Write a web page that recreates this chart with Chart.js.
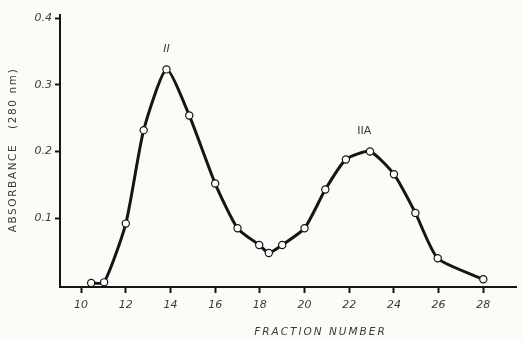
<!DOCTYPE html>
<html>
<head>
<meta charset="utf-8">
<script src="https://cdn.jsdelivr.net/npm/chart.js@4"></script>
<style>
  html, body { margin: 0; padding: 0; background: #fbfbf8; }
  #wrap { width: 522px; height: 341px; position: relative; }
</style>
</head>
<body>
<div id="wrap"><canvas id="chart"></canvas></div>
<script>
// Fraction number vs absorbance (280 nm)
const fractions = [10.45, 11.03, 12, 12.8, 13.82, 14.84, 16, 17, 17.97, 18.4, 19, 20, 20.93, 21.85, 22.93, 24, 24.96, 25.96, 28];
const absorbance = [0.003, 0.004, 0.092, 0.232, 0.323, 0.254, 0.152, 0.085, 0.060, 0.048, 0.060, 0.085, 0.143, 0.188, 0.200, 0.166, 0.108, 0.040, 0.0085];
const xTicks = [10, 12, 14, 16, 18, 20, 22, 24, 26, 28];
const yTicks = [0.1, 0.2, 0.3, 0.4];
const peakNames = ['II', 'IIA'];
const peakAt = [[13.82, 0.354], [22.67, 0.231]];
const xTitle = 'FRACTION NUMBER';
const yTitle = 'ABSORBANCE   (280 nm)';

const ink = '#151515';
const grey = '#3a3a3a';
const tickFont = { family: "'DejaVu Sans', sans-serif", size: 11, style: 'italic' };

// peak names plus the spaced-out axis titles
const annotations = {
    id: 'annotations',
    afterDraw(chart) {
        const { ctx, chartArea: a, scales: { x, y } } = chart;
        ctx.save();
        ctx.fillStyle = grey;
        ctx.textAlign = 'center';
        ctx.textBaseline = 'middle';
        peakNames.forEach((name, i) => {
            ctx.font = i === 0 ? "italic 11px 'DejaVu Sans'" : "11px 'DejaVu Sans'";
            ctx.fillText(name, x.getPixelForValue(peakAt[i][0]), y.getPixelForValue(peakAt[i][1]));
        });
        ctx.letterSpacing = '2px';
        ctx.font = "italic 10.5px 'DejaVu Sans'";
        ctx.fillText(xTitle, (a.left + a.right) / 2 + 32, 332);
        ctx.letterSpacing = '1.6px';
        ctx.font = "10.5px 'DejaVu Sans'";
        ctx.translate(13, (a.top + a.bottom) / 2 - 1);
        ctx.rotate(-Math.PI / 2);
        ctx.fillText(yTitle, 0, 0);
        ctx.restore();
    }
};

new Chart(document.getElementById('chart'), {
    type: 'scatter',
    data: {
        datasets: [{
            data: fractions.map((f, i) => ({ x: f, y: absorbance[i] })),
            showLine: true,
            borderColor: ink,
            borderWidth: 3,
            tension: 0.2,
            pointRadius: 3.6,
            pointBorderWidth: 1.2,
            pointBackgroundColor: '#ffffff',
            pointBorderColor: ink
        }]
    },
    plugins: [annotations],
    options: {
        responsive: true,
        maintainAspectRatio: false,
        animation: false,
        layout: { padding: { top: 15, right: 0, left: 0, bottom: 0 } },
        plugins: { legend: { display: false }, tooltip: { enabled: false } },
        scales: {
            x: {
                type: 'linear',
                min: 9.055,
                max: 29.5,
                afterBuildTicks: (s) => { s.ticks = xTicks.map(v => ({ value: v })); },
                afterFit: (s) => { s.height = 54; },
                border: { color: ink, width: 2 },
                grid: { drawOnChartArea: false, tickLength: 6, color: ink, tickWidth: 2 },
                ticks: { color: grey, font: tickFont, padding: 6, maxRotation: 0 }
            },
            y: {
                min: -0.003,
                max: 0.4045,
                afterBuildTicks: (s) => { s.ticks = yTicks.map(v => ({ value: v })); },
                afterFit: (s) => { s.width = 60; },
                border: { color: ink, width: 2 },
                grid: { drawOnChartArea: false, tickLength: 5, color: ink, tickWidth: 2 },
                ticks: { color: grey, font: tickFont, padding: 3, callback: (v) => v.toFixed(1) }
            }
        }
    }
});
</script>
</body>
</html>
